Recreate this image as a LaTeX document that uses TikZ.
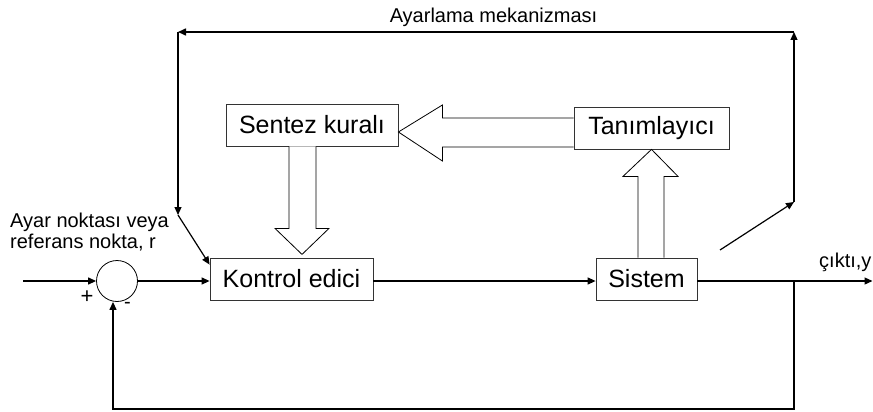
\documentclass[tikz,border=0pt]{standalone}
\usepackage{fontspec}
\setmainfont{Liberation Sans}
\usetikzlibrary{arrows.meta,calc}

\tikzset{
  block/.style={draw=black!80, line width=0.8pt, fill=white, inner sep=0pt,
    font=\fontsize{25}{30}\selectfont},
  conn/.style={line width=1.2pt, -{Triangle[length=8pt,width=7pt]}},
  hollow/.style={draw=black, line width=0.8pt, fill=white, line join=miter},
  lbl/.style={inner sep=0pt, font=\fontsize{20}{24}\selectfont},
}

\begin{document}
\begin{tikzpicture}[x=1pt,y=-1pt]
\useasboundingbox (0,0) rectangle (873,412);

% blocks
\node[block, minimum width=163pt, minimum height=42pt] (ke)  at (291.5,279) {Kontrol edici};
\node[block, minimum width=101pt, minimum height=42pt] (sys) at (646.5,279) {Sistem};
\node[block, minimum width=155pt, minimum height=42pt] (tn)  at (651.5,128) {Tanımlayıcı};
\node[block, minimum width=172pt, minimum height=42pt] (sk)  at (312,125)   {Sentez kuralı};
\node[draw, line width=0.8pt, circle, minimum size=41pt, inner sep=0pt] (sum) at (117,281) {};

% signal path
\coordinate (in)  at (23,281);
\coordinate (out) at (872.5,281);
\coordinate (tap) at (794,281);
\coordinate (bot) at (794,409);
\draw[conn] (in) -- (sum.west);
\draw[conn] (sum.east) -- (ke.west |- sum);
\draw[conn] (ke.east |- sum) -- (sys.west |- sum);
\draw[conn] (sys.east |- sum) -- (out);
\draw[conn] (tap) -- (bot) -| ([xshift=-4pt]sum.south);

% adaptation loop
\coordinate (a1) at (720,250);
\coordinate (a2) at (794,202);
\coordinate (a3) at (794,32);
\coordinate (a4) at (178,32);
\coordinate (a5) at (178,215);
\draw[conn] (a1) -- (a2);
\draw[conn] (a2) -- (a3);
\draw[conn, line width=1.5pt] (a3) -- (a4);
\draw[conn] (a4) -- (a5);
\draw[conn] (a5) -- ([yshift=-7pt]ke.north west);

% hollow arrow: Tanımlayıcı -> Sentez kuralı
\draw[hollow] ($(tn.west)+(0,-10)$) -- ($(sk.east)+(44,-7)$) -- ($(sk.east)+(44,-20)$)
  -- ($(sk.east)+(0,7)$) -- ($(sk.east)+(44,36)$) -- ($(sk.east)+(44,22)$)
  -- ($(tn.west)+(0,19)$);

% hollow arrow: Sentez kuralı -> Kontrol edici
\draw[hollow] ($(sk.south)+(-23,0)$) -- ($(sk.south)+(-23,82)$) -- ($(sk.south)+(-37,82)$)
  -- ($(sk.south)+(-10,108)$) -- ($(sk.south)+(17,82)$) -- ($(sk.south)+(4,82)$)
  -- ($(sk.south)+(4,0)$);

% hollow arrow: Sistem -> Tanımlayıcı
\coordinate (ul) at ($(tn.south)+(-13.5,0)$);
\coordinate (ur) at ($(tn.south)+(12.5,0)$);
\draw[hollow] (ul |- sys.north) -- ($(ul)+(0,27)$) -- ($(tn.south)+(-28.5,27)$)
  -- (tn.south) -- ($(tn.south)+(26.5,27)$) -- ($(ur)+(0,27)$) -- (ur |- sys.north);

% labels
\node[lbl, anchor=base] (lm) at (493.5,23) {Ayarlama mekanizması};
\node[lbl, anchor=base west] (r1) at (10,227) {Ayar noktası veya};
\node[lbl, anchor=base west] (r2) at (10,248) {referans nokta, r};
\node[lbl, font=\fontsize{22}{24}\selectfont] (plus) at (87,297) {+};
\node[lbl] (minus) at (127.5,305) {-};
\node[lbl, anchor=base west] (y) at (819,267) {çıktı,y};
\end{tikzpicture}
\end{document}
